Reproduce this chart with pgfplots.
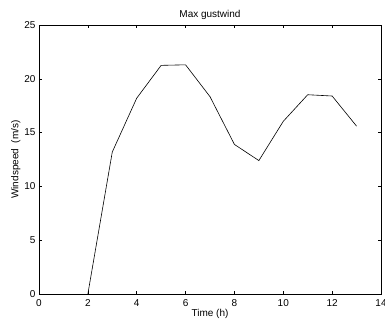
\documentclass[border=0pt]{standalone}
\usepackage{fontspec}
\setmainfont{Liberation Sans}
\usepackage{pgfplots}
\pgfplotsset{compat=1.18}
\begin{document}
\begin{tikzpicture}
\begin{axis}[
  at={(0pt,0pt)}, anchor=south west,
  scale only axis, width=342pt, height=269pt,
  xmin=0, xmax=14, ymin=0, ymax=25,
  xtick={0,2,...,14}, ytick={0,5,...,25},
  tick align=inside, major tick length=3pt,
  axis line style={line width=0.9pt},
  every tick/.style={black, line width=0.5pt},
  /pgf/number format/assume math mode=true,
  tick label style={font=\fontsize{10}{12}\selectfont},
  label style={font=\fontsize{10}{12}\selectfont},
  title style={font=\fontsize{10}{12}\selectfont, yshift=-4pt},
  xticklabel style={yshift=-2pt},
  yticklabel style={xshift=0pt},
  title={Max gustwind},
  xlabel={Time (h)},
  ylabel={Windspeed\ \ (m/s)},
  xlabel style={yshift=4pt},
  ylabel style={yshift=-3pt},
]
\addplot[black, line width=0.6pt, mark=none] coordinates {
 (2,0) (3,13.2) (4,18.2) (5,21.25) (6,21.3) (7,18.34) (8,13.9) (9,12.4) (10,16.05) (11,18.52) (12,18.4) (13,15.6)
};
\end{axis}
\pgfresetboundingbox
\useasboundingbox (-39pt,-28pt) rectangle (346pt,294pt);
\end{tikzpicture}
\end{document}
